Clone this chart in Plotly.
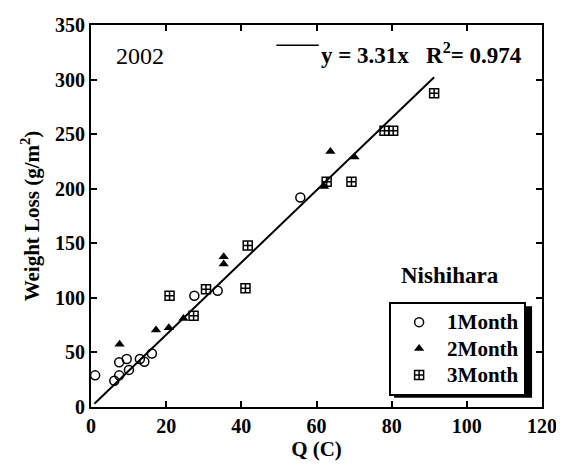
import plotly.graph_objects as go

# 1Month (circles)
m1_x = [1.1, 6.2, 7.5, 7.5, 9.5, 10.1, 13.0, 14.2, 16.2, 27.5, 33.7, 55.7]
m1_y = [29, 24, 29, 41, 44, 34, 44, 41.5, 49, 102, 106.5, 192]
# 2Month (triangles)
m2_x = [7.6, 17.3, 20.7, 24.6, 35.3, 35.3, 62.0, 63.7, 70.1]
m2_y = [57.5, 70.5, 72.7, 81, 137.7, 131, 202, 234, 229]
# 3Month (crossed squares)
m3_x = [20.9, 27.3, 30.6, 41.1, 41.7, 62.7, 69.3, 78.1, 80.4, 91.3]
m3_y = [102, 83.6, 107.8, 108.7, 148, 206.4, 206.4, 253, 253, 287.5]
# regression y = 3.31x
slope = 3.31
fit_x = [0.9, 91.3]
fit_y = [slope * v for v in fit_x]

x_ticks = [0, 20, 40, 60, 80, 100, 120]
y_ticks = [0, 50, 100, 150, 200, 250, 300, 350]
series_names = ["1Month", "2Month", "3Month"]

FONT = "Liberation Serif"


def leg(name):
    return '<span style="font-size:21px"><b>' + name + '</b></span>'


fig = go.Figure()
fig.add_trace(go.Scatter(x=fit_x, y=fit_y, mode="lines", line=dict(color="black", width=2),
                         showlegend=False, hoverinfo="skip"))
fig.add_trace(go.Scatter(x=m1_x, y=m1_y, mode="markers", name=leg(series_names[0]),
                         marker=dict(symbol="circle-open", size=9, color="black", line=dict(width=1.5))))
fig.add_trace(go.Scatter(x=m2_x, y=m2_y, mode="markers", name=leg(series_names[1]),
                         marker=dict(symbol="triangle-up", size=9, color="black")))
fig.add_trace(go.Scatter(x=m3_x, y=m3_y, mode="markers", name=leg(series_names[2]),
                         marker=dict(symbol="square-cross-open", size=9, color="black", line=dict(width=1.5))))

axis_common = dict(showline=True, linecolor="black", linewidth=2, mirror="ticks",
                   ticks="inside", ticklen=6, tickwidth=1.5, tickcolor="black",
                   showgrid=False, zeroline=False, automargin=False,
                   tickfont=dict(family=FONT, size=20, color="black", weight="bold"))
fig.update_xaxes(range=[0, 120], tickvals=x_ticks,
                 title=dict(text="<b>Q (C)</b>", font=dict(family=FONT, size=21, color="black"), standoff=2),
                 **axis_common)
fig.update_yaxes(range=[0, 350], tickvals=y_ticks,
                 title=dict(text="<b>Weight Loss (g/m<sup>2</sup>)</b>", font=dict(family=FONT, size=21, color="black"), standoff=10),
                 **axis_common)

fig.update_layout(
    width=556, height=457,
    margin=dict(l=83, r=22, t=17, b=58),
    paper_bgcolor="white", plot_bgcolor="white",
    font=dict(family=FONT, color="black"),
    showlegend=True,
    legend=dict(x=0.661, y=0.275, xanchor="left", yanchor="top",
                bgcolor="white", bordercolor="black", borderwidth=2,
                font=dict(family=FONT, size=18, color="black"),
                itemwidth=46, tracegroupgap=0),
    annotations=[
        dict(text="2002", x=0.052, y=0.92, xref="paper", yref="paper", xanchor="left", yanchor="middle",
             showarrow=False, font=dict(family=FONT, size=24, color="black")),
        dict(text="<b>y = 3.31x &nbsp; R<sup>2</sup>= 0.974</b>", x=0.505, y=0.926, xref="paper", yref="paper",
             xanchor="left", yanchor="middle", showarrow=False, font=dict(family=FONT, size=23, color="black")),
        dict(text="<b>Nishihara</b>", x=0.684, y=0.343, xref="paper", yref="paper", xanchor="left", yanchor="middle",
             showarrow=False, font=dict(family=FONT, size=23, color="black")),
    ],
    shapes=[
        dict(type="line", xref="paper", yref="paper", x0=0.411, x1=0.505, y0=0.947, y1=0.947,
             line=dict(color="black", width=1.5)),
        dict(type="rect", xref="paper", yref="paper", x0=0.672, x1=0.978, y0=0.024, y1=0.264,
             fillcolor="black", line=dict(width=0), layer="above"),
    ],
)
fig.write_html("out.html")
